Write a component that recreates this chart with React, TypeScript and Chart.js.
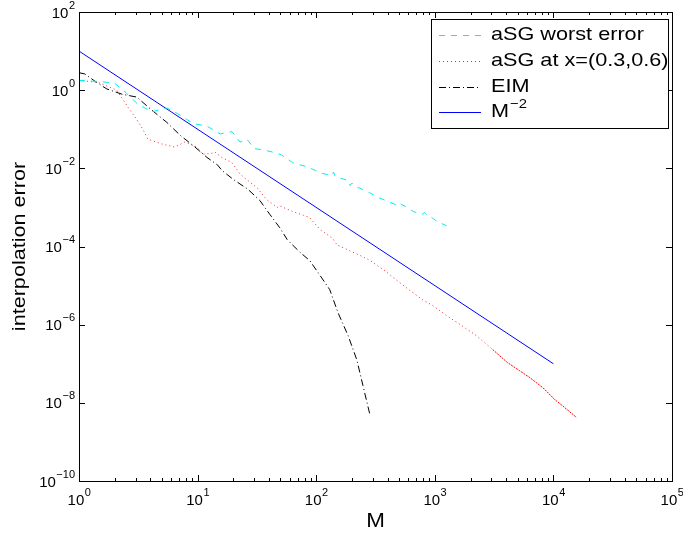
import React, { useEffect, useRef } from "react";
import { Chart, registerables } from "chart.js";

Chart.register(...registerables);

// aSG worst error
const worstM = [1, 1.5, 2.0, 2.5, 3.1, 4.1, 5.5, 6.8, 9.2, 12, 15.5, 19.5, 22.8, 26, 30, 35, 43, 51, 63, 83, 98, 112, 136, 140, 144, 160, 186, 193, 200, 213, 234, 280, 333, 420, 477, 500, 520, 590, 656, 780, 820, 850, 950, 1050, 1260];
const worstErr = [1.78, 1.66, 1.51, 0.85, 0.45, 0.28, 0.35, 0.25, 0.14, 0.12, 0.076, 0.087, 0.047, 0.056, 0.032, 0.030, 0.026, 0.022, 0.014, 0.011, 8.9e-3, 7.4e-3, 6.6e-3, 8.0e-3, 6.4e-3, 5.6e-3, 4.9e-3, 3.6e-3, 4.2e-3, 3.4e-3, 3.1e-3, 2.4e-3, 1.8e-3, 1.35e-3, 1.15e-3, 1.3e-3, 1.2e-3, 1.0e-3, 7.9e-4, 6.6e-4, 7.4e-4, 6.5e-4, 5.4e-4, 4.3e-4, 3.4e-4];

// aSG at x=(0.3,0.6)
const pointM = [1, 1.45, 2.08, 2.6, 3.1, 3.5, 3.8, 5.0, 6.4, 7.8, 9.9, 11, 13, 14, 16, 19.5, 22.8, 27.7, 32, 38, 47, 49, 63, 78, 88, 108, 138, 150, 190, 234, 285, 345, 366, 480, 620, 800, 960, 1260, 1700, 2250, 3080, 4100, 5200, 6340, 8200, 10300, 12000, 15700];
const pointErr = [1.78, 1.58, 1.0, 0.36, 0.17, 0.093, 0.056, 0.042, 0.035, 0.047, 0.035, 0.023, 0.024, 0.026, 0.019, 0.014, 7.1e-3, 4.4e-3, 3.1e-3, 1.6e-3, 1.0e-3, 1.1e-3, 7.9e-4, 6.3e-4, 5.5e-4, 2.7e-4, 1.6e-4, 1.1e-4, 7.9e-5, 5.9e-5, 4.4e-5, 2.9e-5, 2.6e-5, 1.35e-5, 7.4e-6, 4.2e-6, 3.1e-6, 1.7e-6, 9.3e-7, 5.2e-7, 2.3e-7, 1.07e-7, 6.6e-8, 4.4e-8, 2.4e-8, 1.2e-8, 8.3e-9, 4.2e-9];

// EIM
const eimM = [1, 1.12, 1.4, 1.72, 2.3, 3.1, 3.3, 4.1, 5.5, 7.1, 9.5, 12, 14.8, 16, 20, 26.6, 33.5, 40.7, 49, 57, 73, 88, 108, 130, 153, 186, 220, 248, 285];
const eimErr = [2.8, 2.6, 1.6, 1.07, 0.79, 0.66, 0.55, 0.31, 0.15, 0.071, 0.035, 0.019, 0.012, 8.9e-3, 5.2e-3, 2.9e-3, 1.5e-3, 6.6e-4, 3.1e-4, 1.5e-4, 7.1e-5, 4.4e-5, 1.8e-5, 7.9e-6, 2.0e-6, 5.2e-7, 1.26e-7, 2.75e-8, 4.7e-9];

// M^-2 reference
const refM = [1, 1e4];
const refErr = [10, 1e-7];

const seriesLabels = ["aSG worst error", "aSG at x=(0.3,0.6)", "EIM", "M"];
const xTickExps = [0, 1, 2, 3, 4, 5];
const yTickExps = [2, 0, -2, -4, -6, -8, -10];
const xTitle = "M";
const yTitle = "interpolation error";

const FONT = "'Liberation Sans', Arial, Helvetica, sans-serif";

const styles = [
  { color: "#00eeee", dash: [6, 6] },
  { color: "#ff2020", dash: [1, 3] },
  { color: "#000000", dash: [7, 3, 1, 3] },
  { color: "#0000ff", dash: [] as number[] },
];

function pts(m: number[], v: number[]) {
  return m.map((x, i) => ({ x, y: v[i] }));
}

function sup(n: number) {
  return n < 0 ? "\u2212" + String(-n) : String(n);
}

function stretchText(ctx: CanvasRenderingContext2D, t: string, x: number, y: number, sx: number) {
  ctx.save();
  ctx.translate(x, y);
  ctx.scale(sx, 1);
  ctx.fillText(t, 0, 0);
  ctx.restore();
}

const overlay = {
  id: "overlay",
  afterDraw(chart: any) {
    const { ctx, chartArea } = chart;
    const { left, right, top, bottom } = chartArea;
    const xs = chart.scales.x;
    const ys = chart.scales.y;
    ctx.save();
    ctx.strokeStyle = "#000";
    ctx.fillStyle = "#000";
    ctx.lineWidth = 1;
    // frame
    ctx.strokeRect(Math.round(left) + 0.5, Math.round(top) + 0.5, Math.round(right - left), Math.round(bottom - top));
    // ticks
    ctx.beginPath();
    for (const e of xTickExps) {
      const px = Math.round(xs.getPixelForValue(Math.pow(10, e))) + 0.5;
      ctx.moveTo(px, bottom); ctx.lineTo(px, bottom - 6);
      ctx.moveTo(px, top); ctx.lineTo(px, top + 6);
      if (e < 5) {
        for (let m = 2; m <= 9; m++) {
          const q = Math.round(xs.getPixelForValue(m * Math.pow(10, e))) + 0.5;
          ctx.moveTo(q, bottom); ctx.lineTo(q, bottom - 3);
          ctx.moveTo(q, top); ctx.lineTo(q, top + 3);
        }
      }
    }
    for (const e of yTickExps) {
      const py = Math.round(ys.getPixelForValue(Math.pow(10, e))) + 0.5;
      ctx.moveTo(left, py); ctx.lineTo(left + 6, py);
      ctx.moveTo(right, py); ctx.lineTo(right - 6, py);
    }
    ctx.stroke();

    // tick labels
    const baseFont = "15px " + FONT;
    const expFont = "11px " + FONT;
    ctx.textBaseline = "alphabetic";
    ctx.textAlign = "left";
    for (const e of xTickExps) {
      const px = xs.getPixelForValue(Math.pow(10, e));
      ctx.font = baseFont;
      const wb = ctx.measureText("10").width;
      ctx.font = expFont;
      const we = ctx.measureText(sup(e)).width;
      const x0 = px - (wb + we) / 2;
      ctx.font = baseFont;
      ctx.fillText("10", x0, 505);
      ctx.font = expFont;
      ctx.fillText(sup(e), x0 + wb + 0.5, 496);
    }
    for (const e of yTickExps) {
      const py = ys.getPixelForValue(Math.pow(10, e));
      ctx.font = expFont;
      const we = ctx.measureText(sup(e)).width;
      ctx.font = baseFont;
      const wb = ctx.measureText("10").width;
      const xEnd = left - 4;
      ctx.fillText("10", xEnd - we - wb - 0.5, py + 5.5);
      ctx.font = expFont;
      ctx.fillText(sup(e), xEnd - we, py - 3.5);
    }

    // axis titles
    ctx.font = "20px " + FONT;
    ctx.textAlign = "center";
    ctx.textBaseline = "middle";
    stretchText(ctx, xTitle, (left + right) / 2, 521, 1.12);
    ctx.save();
    ctx.translate(20, (top + bottom) / 2);
    ctx.rotate(-Math.PI / 2);
    ctx.font = "18px " + FONT;
    stretchText(ctx, yTitle, 0, 0, 1.2);
    ctx.restore();

    // legend
    const lx0 = 431, ly0 = 19, lx1 = 668, ly1 = 128;
    ctx.fillStyle = "#fff";
    ctx.fillRect(lx0, ly0, lx1 - lx0, ly1 - ly0);
    ctx.strokeStyle = "#000";
    ctx.lineWidth = 1;
    ctx.strokeRect(lx0 + 0.5, ly0 + 0.5, lx1 - lx0, ly1 - ly0);
    const rows = [34.5, 61, 86.5, 111.5];
    const sx = 1.14;
    ctx.textAlign = "left";
    ctx.textBaseline = "middle";
    for (let i = 0; i < 4; i++) {
      const y = Math.round(rows[i]) + 0.5;
      ctx.strokeStyle = styles[i].color;
      ctx.setLineDash(styles[i].dash);
      ctx.beginPath();
      ctx.moveTo(439, y);
      ctx.lineTo(481, y);
      ctx.stroke();
      ctx.setLineDash([]);
      ctx.fillStyle = "#000";
      ctx.font = "19px " + FONT;
      stretchText(ctx, seriesLabels[i], 491, rows[i], sx);
      if (i === 3) {
        const w = ctx.measureText(seriesLabels[i]).width * sx;
        ctx.font = "13px " + FONT;
        stretchText(ctx, "\u22122", 491 + w + 1, rows[i] - 7, sx);
      }
    }
    ctx.restore();
  },
};

export default function App() {
  const ref = useRef<HTMLCanvasElement | null>(null);
  useEffect(() => {
    if (!ref.current) return;
    const data = [pts(worstM, worstErr), pts(pointM, pointErr), pts(eimM, eimErr), pts(refM, refErr)];
    const chart = new Chart(ref.current, {
      type: "line",
      data: {
        datasets: data.map((d, i) => ({
          label: seriesLabels[i],
          data: d,
          borderColor: styles[i].color,
          borderDash: styles[i].dash,
          borderWidth: 1,
          pointRadius: 0,
          fill: false,
          tension: 0,
          segment:
            i === 1
              ? {
                  borderDash: (c: any) => (c.p0.parsed.x >= 3000 ? [2, 1] : undefined),
                  borderColor: (c: any) => (c.p0.parsed.x >= 3000 ? "#ff0000" : undefined),
                }
              : undefined,
        })),
      },
      options: {
        animation: false,
        responsive: false,
        maintainAspectRatio: false,
        devicePixelRatio: 1,
        layout: { padding: { top: 12, right: 11, left: 0, bottom: 0 } },
        plugins: { legend: { display: false }, tooltip: { enabled: false } },
        scales: {
          x: {
            type: "logarithmic",
            min: 1,
            max: 1e5,
            grid: { display: false },
            border: { display: false },
            ticks: { display: false },
            afterFit: (s: any) => { s.height = 52; },
          },
          y: {
            type: "logarithmic",
            min: 1e-10,
            max: 1e2,
            grid: { display: false },
            border: { display: false },
            ticks: { display: false },
            afterFit: (s: any) => { s.width = 79; },
          },
        },
      },
      plugins: [overlay],
    });
    return () => chart.destroy();
  }, []);
  return (
    <div style={{ position: "absolute", left: 0, top: 0, width: 683, height: 533, background: "#fff" }}>
      <canvas ref={ref} width={683} height={533} style={{ width: 683, height: 533 }} />
    </div>
  );
}
